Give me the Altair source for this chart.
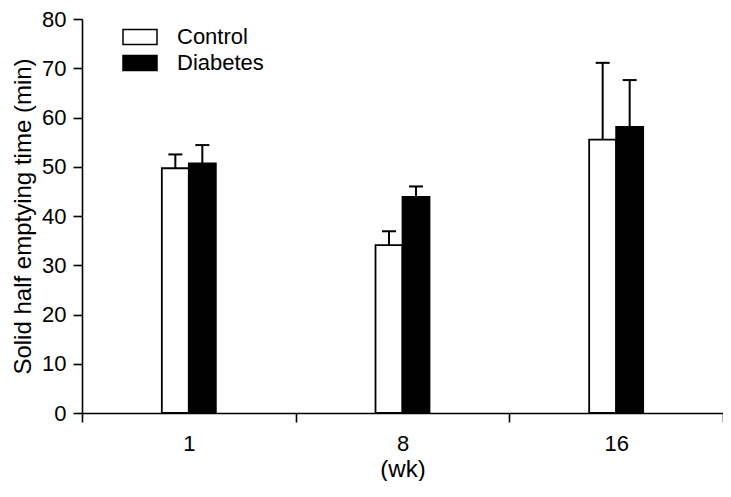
import altair as alt
import pandas as pd

# ---- data ----
weeks = ["1", "8", "16"]
groups = ["Control", "Diabetes"]
control_mean = [49.7, 34.1, 55.5]
control_err = [2.8, 2.8, 15.6]
diabetes_mean = [50.7, 43.9, 58.1]
diabetes_err = [3.7, 2.1, 9.5]
y_ticks = [0, 10, 20, 30, 40, 50, 60, 70, 80]

rows = []
for w, m, e in zip(weeks, control_mean, control_err):
    rows.append({"week": w, "group": "Control", "mean": m, "upper": round(m + e, 2)})
for w, m, e in zip(weeks, diabetes_mean, diabetes_err):
    rows.append({"week": w, "group": "Diabetes", "mean": m, "upper": round(m + e, 2)})
df = pd.DataFrame(rows)

FONT = "Liberation Sans"
PLOT_W = 641
BAR_W = 27

x_enc = alt.X(
    "week:N",
    sort=weeks,
    scale=alt.Scale(paddingInner=0, paddingOuter=0),
    axis=alt.Axis(
        title="(wk)",
        labelAngle=0,
        tickBand="extent",
        tickSize=9,
        labelPadding=11,
        labelFontSize=22,
        titleFontSize=24,
        titlePadding=3,
    ),
)
step = PLOT_W / len(weeks)
xo_enc = alt.XOffset(
    "group:N",
    sort=groups,
    scale=alt.Scale(paddingInner=0, paddingOuter=0,
                    range=[step / 2 - BAR_W, step / 2 + BAR_W]),
)
y_enc = alt.Y(
    "mean:Q",
    scale=alt.Scale(domain=[0, 80], nice=False),
    axis=alt.Axis(
        title="Solid half emptying time (min)",
        values=y_ticks,
        tickSize=9,
        labelPadding=7,
        labelFontSize=22,
        titleFontSize=24,
        titlePadding=6,
    ),
)

bars = (
    alt.Chart(df)
    .mark_bar(stroke="black", strokeWidth=1.8)
    .encode(
        x=x_enc,
        xOffset=xo_enc,
        y=y_enc,
        fill=alt.Fill(
            "group:N",
            sort=groups,
            scale=alt.Scale(domain=groups, range=["white", "black"]),
            legend=alt.Legend(
                title=None,
                orient="none",
                legendX=43,
                legendY=3,
                symbolType="M-1.2,-0.53H1.2V0.53H-1.2Z",
                symbolSize=803,
                symbolStrokeColor="black",
                symbolStrokeWidth=1.5,
                symbolOpacity=1,
                labelFontSize=22,
                labelFont=FONT,
                labelColor="black",
                labelOffset=22,
                rowPadding=0,
                padding=0,
            ),
        ),
    )
)

rules = (
    alt.Chart(df)
    .mark_rule(color="black", strokeWidth=2)
    .encode(x=x_enc, xOffset=xo_enc, y="mean:Q", y2="upper:Q")
)

caps = (
    alt.Chart(df)
    .mark_tick(color="black", thickness=2, size=14, opacity=1)
    .encode(x=x_enc, xOffset=xo_enc, y="upper:Q")
)

chart = (
    alt.layer(rules, caps, bars)
    .properties(
        width=PLOT_W,
        height=394,
        autosize=alt.AutoSizeParams(type="none"),
        padding={"left": 74, "top": 11, "right": 0, "bottom": 68},
        background="white",
    )
    .configure_view(stroke=None)
    .configure_axis(
        grid=False,
        domainColor="black",
        domainWidth=1.6,
        tickColor="black",
        tickWidth=1.6,
        labelColor="black",
        titleColor="black",
        labelFont=FONT,
        titleFont=FONT,
        titleFontWeight="normal",
    )
)

chart.save("out.html", embed_options={"renderer": "svg", "actions": False})
